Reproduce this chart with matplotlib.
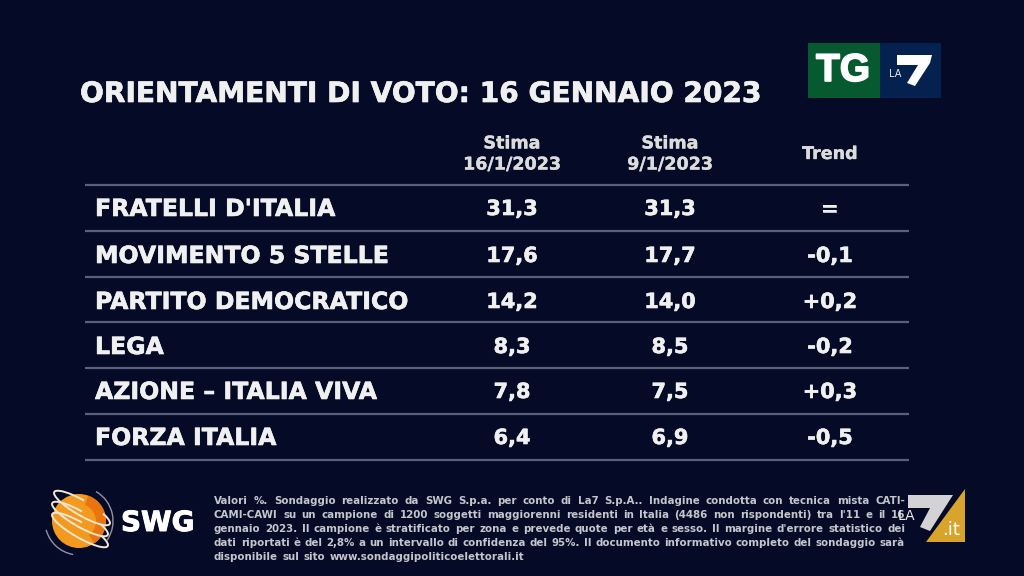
#!/usr/bin/env python3

"""Voting intentions table, TG La7 / SWG poll of 16 January 2023."""

import matplotlib.patheffects as pe
import matplotlib.pyplot as plt
import numpy as np
from matplotlib.patches import Arc, Circle, Polygon, Rectangle, Wedge

BG = "#050a26"
WHITE = "#f0f0f0"
RULE = "#59607a"

title = "ORIENTAMENTI DI VOTO: 16 GENNAIO 2023"
col_headers = ["Stima\n16/1/2023", "Stima\n9/1/2023", "Trend"]
parties = [
    "FRATELLI D'ITALIA",
    "MOVIMENTO 5 STELLE",
    "PARTITO DEMOCRATICO",
    "LEGA",
    "AZIONE – ITALIA VIVA",
    "FORZA ITALIA",
]
stima_16 = ["31,3", "17,6", "14,2", "8,3", "7,8", "6,4"]
stima_9 = ["31,3", "17,7", "14,0", "8,5", "7,5", "6,9"]
trend = ["=", "-0,1", "+0,2", "-0,2", "+0,3", "-0,5"]
note_lines = [
    "Valori %. Sondaggio realizzato da SWG S.p.a. per conto di La7 S.p.A.. Indagine condotta con tecnica mista CATI-",
    "CAMI-CAWI su un campione di 1200 soggetti maggiorenni residenti in Italia (4486 non rispondenti) tra l'11 e il 16",
    "gennaio 2023. Il campione è stratificato per zona e prevede quote per età e sesso. Il margine d'errore statistico dei",
    "dati riportati è del 2,8% a un intervallo di confidenza del 95%. Il documento informativo completo del sondaggio sarà",
    "disponibile sul sito www.sondaggipoliticoelettorali.it",
]

row_y = [209, 256, 302, 347, 392, 438]
rule_y = [185, 231, 277, 322, 368, 414, 460]
col_x = [512, 670, 830]


def heavy(width, color=WHITE):
    """Thicken text a little, the broadcast font is heavier than DejaVu."""
    return [pe.withStroke(linewidth=width, foreground=color)]


def justified(ax, line, x0, x1, y, stretch=True, **kw):
    """Draw one footnote line word by word, spread out to the right margin."""
    words = line.split(" ")
    renderer = ax.figure.canvas.get_renderer()
    items = [ax.text(x0, y, w, va="center", ha="left", **kw) for w in words]
    widths = [t.get_window_extent(renderer).width for t in items]
    if stretch:
        gap = (x1 - x0 - sum(widths)) / (len(words) - 1)
    else:
        gap = 4.5
    x = x0
    for t, w in zip(items, widths):
        t.set_x(x)
        x += w + gap


def draw_tg_logo(ax):
    ax.add_patch(Rectangle((808, 43), 72, 55, color="#07592f", lw=0))
    ax.add_patch(Rectangle((880, 43), 61, 55, color="#04214f", lw=0))
    ax.text(843, 71, "TG", color="white", fontsize=28, fontweight="bold",
            ha="center", va="center", family="Liberation Sans",
            path_effects=heavy(1.2, "white"))
    ax.text(895, 74, "LA", color="#e8e8e8", fontsize=7, ha="center", va="center")
    ax.add_patch(Polygon([(897, 55), (932, 55), (930, 63), (915, 86), (907, 83),
                          (918, 65), (897, 65)], color="white", lw=0))


def draw_swg_logo(ax):
    ax.add_patch(Circle((79, 521), 27, color="#f39a1e", lw=0))
    ax.add_patch(Wedge((79, 521), 27, -70, 55, width=10, color="#e8750f", lw=0))
    for cx, cy in [(82, 508), (80, 519), (80, 530)]:
        ax.add_patch(Arc((cx, cy), 64, 15, angle=30, theta1=-15, theta2=255,
                         ec="#f3e6d4", lw=1.4))
    # thin outer swooshes
    ax.add_patch(Arc((79, 521), 68, 68, angle=0, theta1=-60, theta2=35,
                     ec="#8f93a3", lw=1.0))
    ax.add_patch(Arc((79, 521), 68, 68, angle=0, theta1=100, theta2=165,
                     ec="#8f93a3", lw=1.0))
    ax.text(121, 523, "SWG", color="white", fontsize=20, fontweight="bold",
            ha="left", va="center", path_effects=heavy(0.7, "white"))


def draw_la7_logo(ax):
    ax.add_patch(Polygon([(965, 489), (965, 542), (926, 542)], color="#d9a42c", lw=0))
    ax.add_patch(Polygon([(908, 495), (953, 495), (930, 531), (920, 527), (930, 508),
                          (908, 508)], color="#d3d3d6", lw=0))
    ax.text(906, 516, "LA", color="#e8e8e8", fontsize=10, ha="center", va="center")
    ax.text(951, 530, ".it", color="white", fontsize=13, ha="center", va="center")


def main():
    plt.rcParams["font.family"] = ["DejaVu Sans"]

    fig = plt.figure(figsize=(10.24, 5.76), dpi=100, facecolor=BG)
    ax = fig.add_axes([0, 0, 1, 1])
    ax.set_xlim(0, 1024)
    ax.set_ylim(576, 0)
    ax.axis("off")

    ax.text(80, 94, title, color=WHITE, fontsize=20.2, fontweight="bold",
            ha="left", va="center", path_effects=heavy(0.5))

    for x, header in zip(col_x, col_headers):
        ax.text(x, 154, header, color="#dcdcdc", fontsize=12.6, fontweight="bold",
                ha="center", va="center", linespacing=1.22,
                path_effects=heavy(0.25, "#dcdcdc"))

    for y in rule_y:
        ax.plot([85, 909], [y, y], color=RULE, lw=1.6, solid_capstyle="butt")

    for i, y in enumerate(row_y):
        ax.text(95, y, parties[i], color=WHITE, fontsize=17, fontweight="bold",
                ha="left", va="center", path_effects=heavy(0.45))
        ax.text(col_x[0], y, stima_16[i], color=WHITE, fontsize=15, fontweight="bold",
                ha="center", va="center", path_effects=heavy(0.45))
        ax.text(col_x[1], y, stima_9[i], color=WHITE, fontsize=15, fontweight="bold",
                ha="center", va="center", path_effects=heavy(0.45))
        ax.text(col_x[2], y, trend[i], color=WHITE, fontsize=15, fontweight="bold",
                ha="center", va="center", path_effects=heavy(0.45))

    fig.canvas.draw()
    note_y = np.array([501, 515, 529, 543, 557])
    for i, line in enumerate(note_lines):
        justified(ax, line, 214, 905, note_y[i], stretch=i < len(note_lines) - 1,
                  color="#c4c6cc", fontsize=7.4, fontweight="bold")

    draw_tg_logo(ax)
    draw_swg_logo(ax)
    draw_la7_logo(ax)

    fig.savefig("out.png", dpi=100, facecolor=BG)


if __name__ == "__main__":
    main()
